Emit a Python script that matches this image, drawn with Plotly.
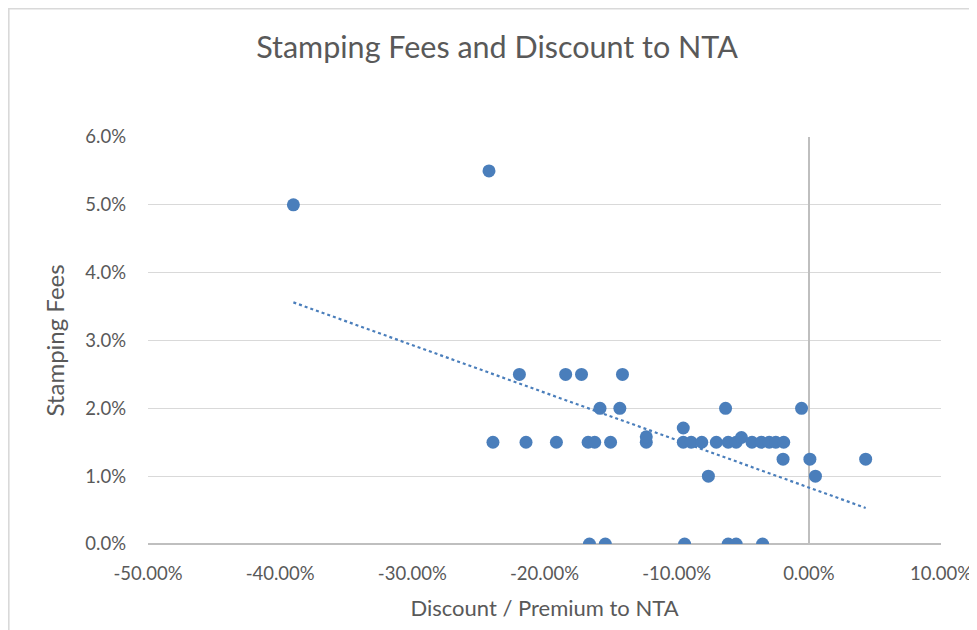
import numpy as np
import plotly.graph_objects as go

# Discount / Premium to NTA (%) and Stamping Fees (%)
discount = [-39.0, -24.2, -23.9, -21.9, -21.4, -19.1, -18.4, -17.2, -16.7, -16.2,
            -16.6, -15.8, -15.4, -15.0, -14.3, -14.1, -12.3, -12.3,
            -6.3, -0.55, -9.5,
            -9.5, -8.9, -8.1, -7.0, -6.1, -5.5, -5.1, -4.3, -3.6, -3.0, -2.5, -1.9,
            -1.95, 0.08, 4.3, -7.6, 0.5,
            -9.4, -6.1, -5.5, -3.5]
fees = [5.0, 5.5, 1.5, 2.5, 1.5, 1.5, 2.5, 2.5, 1.5, 1.5,
        0.0, 2.0, 0.0, 1.5, 2.0, 2.5, 1.5, 1.58,
        2.0, 2.0, 1.71,
        1.5, 1.5, 1.5, 1.5, 1.5, 1.5, 1.57, 1.5, 1.5, 1.5, 1.5, 1.5,
        1.25, 1.25, 1.25, 1.0, 1.0,
        0.0, 0.0, 0.0, 0.0]

x_ticks = [-50, -40, -30, -20, -10, 0, 10]
x_tick_labels = ["-50.00%", "-40.00%", "-30.00%", "-20.00%", "-10.00%", "0.00%", "10.00%"]
y_ticks = [0, 1, 2, 3, 4, 5, 6]
y_tick_labels = ["0.0%", "1.0%", "2.0%", "3.0%", "4.0%", "5.0%", "6.0%"]

xs = np.array(discount) / 100
ys = np.array(fees) / 100
slope, intercept = np.polyfit(xs, ys, 1)
tx = np.array([xs.min(), xs.max()])
ty = slope * tx + intercept

FONT = "Lato"
GRAY = "#595959"
W, H = 969, 622
L, R, T, B = 140, 36, 129, 86
PW, PH = W - L - R, H - T - B

fig = go.Figure()
fig.add_trace(go.Scatter(x=tx, y=ty, mode="lines",
                         line=dict(color="#4a7ebb", width=2.2, dash="dot"),
                         hoverinfo="skip", showlegend=False))
fig.add_trace(go.Scatter(x=xs, y=ys, mode="markers",
                         marker=dict(color="#4a7ebb", size=13, line=dict(width=0)),
                         showlegend=False))

fig.update_layout(
    width=W, height=H,
    paper_bgcolor="white", plot_bgcolor="white",
    margin=dict(l=L, r=R, t=T, b=B, autoexpand=False),
    title=dict(text="Stamping Fees and Discount to NTA", x=489 / W, xanchor="center",
               xref="container", yref="container",
               y=1 - 39 / H, yanchor="middle", automargin=False,
               font=dict(family=FONT, size=30.5, color=GRAY)),
    font=dict(family=FONT, color=GRAY, size=18.5),
    showlegend=False,
)
fig.update_xaxes(range=[-0.5, 0.1], tickvals=[v / 100 for v in x_ticks], ticktext=x_tick_labels,
                 showgrid=False, zeroline=True, zerolinecolor="#bfbfbf", zerolinewidth=1.5,
                 showline=False, ticks="", tickfont=dict(size=18.5, color=GRAY),
                 ticklabelstandoff=16, automargin=False,
                 title=dict(text="Discount / Premium to NTA", font=dict(size=22, color=GRAY), standoff=18))
fig.update_yaxes(range=[0, 0.06], tickvals=[v / 100 for v in y_ticks], ticktext=y_tick_labels,
                 showgrid=True, gridcolor="#d9d9d9", gridwidth=1.3,
                 zeroline=True, zerolinecolor="#bfbfbf", zerolinewidth=1.5,
                 showline=False, ticks="", ticklabelstandoff=21, automargin=False,
                 tickfont=dict(size=18.5, color=GRAY),
                 title=dict(text="Stamping Fees", font=dict(size=24, color=GRAY), standoff=13))

# outer chart border
fig.add_shape(type="rect", xref="paper", yref="paper",
              x0=(0.8 - L) / PW, x1=(W + 20 - L) / PW,
              y0=-(B + 20) / PH, y1=(PH + T - 0.8) / PH,
              line=dict(color="#d9d9d9", width=1.6), fillcolor="rgba(0,0,0,0)", layer="below")

fig.write_html("out.html")
